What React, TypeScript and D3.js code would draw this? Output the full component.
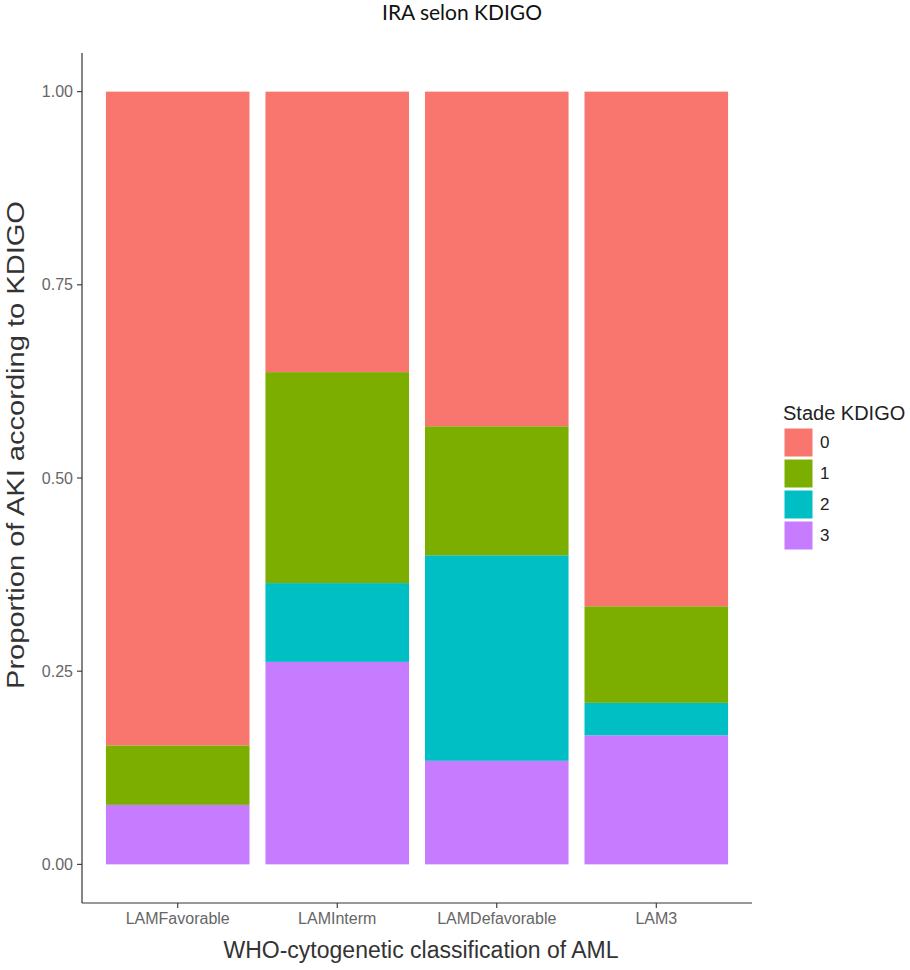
import React from "react";
import * as d3 from "d3";

const categories = ["LAMFavorable", "LAMInterm", "LAMDefavorable", "LAM3"];
const stages = ["0", "1", "2", "3"];
// proportion of each stage per category
const stage0 = [0.846, 0.363, 0.433, 0.666];
const stage1 = [0.077, 0.273, 0.167, 0.125];
const stage2 = [0.0, 0.102, 0.266, 0.042];
const stage3 = [0.077, 0.262, 0.134, 0.167];
const yTicks = [0, 0.25, 0.5, 0.75, 1.0];
const colors = ["#F8766D", "#7CAE00", "#00BFC4", "#C77CFF"];

const W = 910;
const H = 970;
const panel = { left: 82, right: 752, top: 53, bottom: 903 };

export default function App() {
  const x = d3
    .scaleBand<string>()
    .domain(categories)
    .range([panel.left, panel.right])
    .paddingInner(0.1)
    .paddingOuter(0.15);
  const y = d3.scaleLinear().domain([-0.05, 1.05]).range([panel.bottom, panel.top]);

  const rows = categories.map((c, i) => ({
    cat: c,
    "0": stage0[i],
    "1": stage1[i],
    "2": stage2[i],
    "3": stage3[i],
  }));
  // stack bottom to top: 3, 2, 1, 0
  const stackOrder = ["3", "2", "1", "0"];
  const series = d3.stack<any>().keys(stackOrder)(rows);

  const axisColor = "#333333";
  const tickText = "#666666";
  const font = "'Liberation Sans', Arial, sans-serif";

  return (
    <svg
      width={W}
      height={H}
      style={{ position: "absolute", left: 0, top: 0, background: "#fff" }}
      fontFamily={font}
    >
      <rect x={0} y={0} width={W} height={H} fill="#fff" />
      <text
        x={462}
        y={20}
        textAnchor="middle"
        fontFamily="Lato, 'Open Sans', sans-serif"
        fontSize={21}
        fill="#111"
      >
        IRA selon KDIGO
      </text>

      {series.map((s) => {
        const ci = stages.indexOf(s.key);
        return (
          <g key={s.key} fill={colors[ci]}>
            {s.map((d, j) => {
              const h = y(d[0]) - y(d[1]);
              if (h <= 0.01) return null;
              return (
                <rect
                  key={j}
                  x={x(categories[j])}
                  y={y(d[1])}
                  width={x.bandwidth()}
                  height={h}
                />
              );
            })}
          </g>
        );
      })}

      {/* axes */}
      <line x1={panel.left} x2={panel.left} y1={panel.top} y2={panel.bottom} stroke={axisColor} strokeWidth={1.2} />
      <line x1={panel.left} x2={panel.right} y1={panel.bottom} y2={panel.bottom} stroke={axisColor} strokeWidth={1.2} />

      {yTicks.map((t) => (
        <g key={t}>
          <line x1={panel.left - 5} x2={panel.left} y1={y(t)} y2={y(t)} stroke={axisColor} strokeWidth={1.1} />
          <text x={panel.left - 9} y={y(t)} dy="0.35em" textAnchor="end" fontSize={16} fill={tickText}>
            {t.toFixed(2)}
          </text>
        </g>
      ))}

      {categories.map((c) => {
        const cx = (x(c) as number) + x.bandwidth() / 2;
        return (
          <g key={c}>
            <line x1={cx} x2={cx} y1={panel.bottom} y2={panel.bottom + 5} stroke={axisColor} strokeWidth={1.1} />
            <text x={cx} y={924} textAnchor="middle" fontSize={16} fill={tickText}>
              {c}
            </text>
          </g>
        );
      })}

      <text x={421} y={958} textAnchor="middle" fontSize={23} fill="#333">
        WHO-cytogenetic classification of AML
      </text>
      <text
        transform={`translate(24, 445) rotate(-90)`}
        textAnchor="middle"
        fontSize={23}
        fill="#333"
        textLength={488}
        lengthAdjust="spacingAndGlyphs"
      >
        Proportion of AKI according to KDIGO
      </text>

      {/* legend */}
      <text x={783} y={420} fontSize={20} fill="#222">
        Stade KDIGO
      </text>
      {stages.map((s, i) => (
        <g key={s}>
          <rect x={784} y={428 + i * 31} width={29} height={29} fill={colors[i]} stroke="#fff" strokeWidth={1} />
          <text x={820} y={428 + i * 31 + 14.5} dy="0.35em" fontSize={17} fill="#222">
            {s}
          </text>
        </g>
      ))}
    </svg>
  );
}
